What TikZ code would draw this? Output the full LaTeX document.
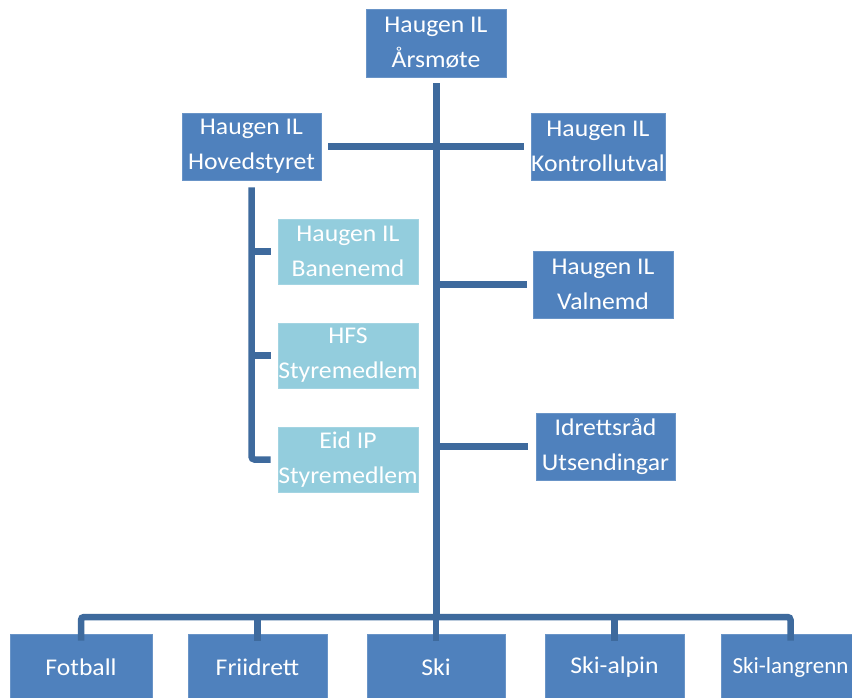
\documentclass[tikz,border=0pt]{standalone}
\usepackage{fontspec}
\setmainfont{Carlito}[FakeStretch=1.07]
\newfontfamily\plainfont{Carlito}
\definecolor{boxblue}{HTML}{4F81BD}
\definecolor{boxlight}{HTML}{93CDDD}
\definecolor{linkblue}{HTML}{3E6A9D}
\tikzset{
  bx/.style={fill=boxblue, draw=boxblue!85!white, line width=0.6pt, text=white, inner sep=0pt, align=center,
    font=\fontsize{24}{35}\selectfont},
  bxl/.style={bx, fill=boxlight, draw=boxlight!85!white},
  link/.style={draw=linkblue, line width=6.5pt},
}
\begin{document}
\begin{tikzpicture}[x=1pt,y=-1pt]
\useasboundingbox (0,0) rectangle (852,697);
\fill[white] (0,0) rectangle (852,697);
\clip (0,0) rectangle (852,697);
% nodes
\node[bx, minimum width=140, minimum height=68] (aars) at (436,43) {Haugen IL\\Årsmøte};
\node[bx, minimum width=139, minimum height=67] (hoved) at (251.5,146.5) {Haugen IL\\Hovedstyret};
\node[bx, minimum width=130, minimum height=67] (kontr) at (598,146.5) {Haugen IL\\Kontrollutval};
\node[bxl, minimum width=140, minimum height=65] (bane) at (348,251.5) {Haugen IL\\Banenemd};
\node[bxl, minimum width=140, minimum height=65] (hfs) at (348,355.5) {HFS\\Styremedlem};
\node[bxl, minimum width=140, minimum height=65] (eid) at (348,459.5) {Eid IP\\Styremedlem};
\node[bx, minimum width=140, minimum height=67] (valn) at (603,284.5) {Haugen IL\\Valnemd};
\node[bx, minimum width=139, minimum height=67] (idr) at (605.5,446.5) {Idrettsråd\\Utsendingar};
\node[bx, minimum width=142, minimum height=67] (fot) at (81,667.5) {Fotball};
\node[bx, minimum width=139, minimum height=67] (fri) at (257.5,667.5) {Friidrett};
\node[bx, minimum width=138, minimum height=67] (ski) at (436,667.5) {Ski};
\node[bx, minimum width=139, minimum height=67] (alp) at (614.5,667.5) {Ski-alpin};
\node[bx, minimum width=139, minimum height=67, font=\plainfont\fontsize{23}{35}\selectfont] (lang) at (790.5,667.5) {Ski-langrenn};
\coordinate (bus) at (0,617);
% connectors
\draw[link] ([yshift=-6pt,xshift=0.5pt]aars.south) -- ([xshift=0.5pt]aars.south |- bus);
\draw[link] ([xshift=7pt]hoved.east) -- ([xshift=-7pt]kontr.west);
\draw[link] ([xshift=0.5pt]aars.south |- valn.west) -- ([xshift=-6pt]valn.west);
\draw[link] ([xshift=0.5pt]aars.south |- idr.west) -- ([xshift=-8pt]idr.west);
\draw[link, rounded corners=3pt] ([yshift=-7pt]hoved.south) -- (hoved.south |- eid.west) -- ([xshift=-7pt]eid.west);
\draw[link] (hoved.south |- bane.west) -- ([xshift=-7pt]bane.west);
\draw[link] (hoved.south |- hfs.west) -- ([xshift=-7pt]hfs.west);
\draw[link, rounded corners=3pt] ([yshift=-7pt]fot.north) -- (fot.north |- bus) -- (lang.north |- bus) -- ([yshift=-7pt]lang.north);
\draw[link] (fri.north |- bus) -- ([yshift=-7pt]fri.north);
\draw[link] (ski.north |- bus) -- ([yshift=-7pt]ski.north);
\draw[link] (alp.north |- bus) -- ([yshift=-7pt]alp.north);
\end{tikzpicture}
\end{document}
